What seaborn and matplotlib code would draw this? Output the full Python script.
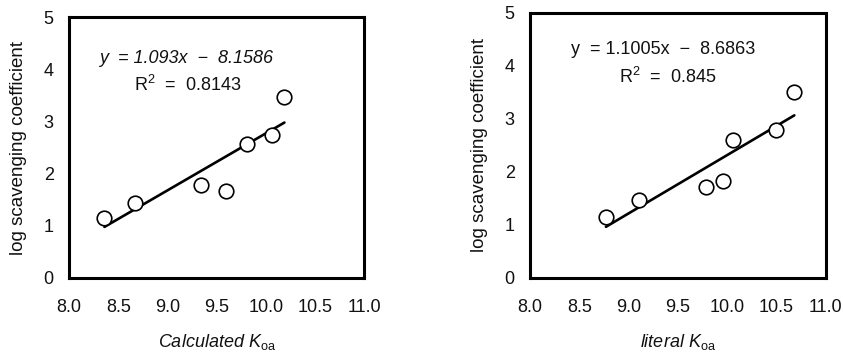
import numpy as np
import pandas as pd
import matplotlib
matplotlib.use("Agg")
import matplotlib.pyplot as plt
import seaborn as sns

sns.set_theme(style="white")
plt.rcParams['font.family'] = ['Liberation Sans', 'DejaVu Sans']
plt.rcParams['mathtext.fontset'] = 'custom'
plt.rcParams['mathtext.rm'] = 'Liberation Sans'
plt.rcParams['mathtext.it'] = 'Liberation Sans:italic'

# Left panel: calculated Koa
calc_koa = [8.36, 8.67, 9.34, 9.60, 9.81, 10.06, 10.19]
calc_logsc = [1.15, 1.44, 1.79, 1.67, 2.56, 2.75, 3.47]
calc_slope, calc_intercept = 1.093, -8.1586
calc_eq = "y  = 1.093x  \u2212  8.1586"
calc_r2 = r"R$^2$  =  0.8143"

# Right panel: literal Koa
lit_koa = [8.77, 9.11, 9.78, 9.96, 10.06, 10.49, 10.68]
lit_logsc = [1.15, 1.48, 1.71, 1.83, 2.60, 2.79, 3.50]
lit_slope, lit_intercept = 1.1005, -8.6863
lit_eq = "y  = 1.1005x  \u2212  8.6863"
lit_r2 = r"R$^2$  =  0.845"

xticks = [8.0, 8.5, 9.0, 9.5, 10.0, 10.5, 11.0]
xticklabels = ["8.0", "8.5", "9.0", "9.5", "10.0", "10.5", "11.0"]
yticks = [0, 1, 2, 3, 4, 5]

fig = plt.figure(figsize=(8.43, 3.54), dpi=100)
ax1 = fig.add_axes([0.0819, 0.2147, 0.350, 0.737])
ax2 = fig.add_axes([0.6287, 0.2147, 0.351, 0.749])

panels = [
    (ax1, calc_koa, calc_logsc, calc_slope, calc_intercept, calc_eq, calc_r2,
     r"Calculated $K_{\mathrm{oa}}$", (0.10, 0.84), (0.22, 0.74), "italic"),
    (ax2, lit_koa, lit_logsc, lit_slope, lit_intercept, lit_eq, lit_r2,
     r"literal $K_{\mathrm{oa}}$", (0.14, 0.86), (0.30, 0.76), "normal"),
]

for ax, xs, ys, m, b, eq, r2, xl, eqpos, r2pos, eqstyle in panels:
    df = pd.DataFrame({"x": xs, "y": ys})
    line = pd.DataFrame({"x": [min(xs), max(xs)]})
    line["y"] = m * line["x"] + b
    sns.lineplot(data=line, x="x", y="y", ax=ax, color="black", linewidth=1.9)
    sns.scatterplot(data=df, x="x", y="y", ax=ax, s=110, facecolor="white",
                    edgecolor="black", linewidth=1.2, zorder=3)
    ax.set_xlim(8.0, 11.0)
    ax.set_ylim(0, 5)
    ax.set_xticks(xticks)
    ax.set_xticklabels(xticklabels)
    ax.set_yticks(yticks)
    ax.tick_params(axis="x", length=0, pad=15, labelsize=13, colors="#111111")
    ax.tick_params(axis="y", length=0, pad=11, labelsize=13, colors="#111111")
    for sp in ax.spines.values():
        sp.set_visible(True)
        sp.set_color("black")
        sp.set_linewidth(2.2)
    ax.set_xlabel(xl, fontsize=13, style="italic", labelpad=12, color="#111111")
    ax.set_ylabel("log scavenging coefficient", fontsize=13.5, labelpad=12, color="#111111")
    ax.text(eqpos[0], eqpos[1], eq, transform=ax.transAxes, fontsize=13,
            ha="left", va="center", color="#111111", style=eqstyle)
    ax.text(r2pos[0], r2pos[1], r2, transform=ax.transAxes, fontsize=13,
            ha="left", va="center", color="#111111")

fig.savefig("out.png", dpi=100)
